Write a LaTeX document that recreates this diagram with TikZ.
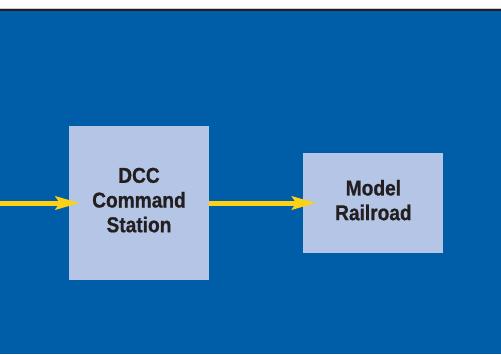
\documentclass[tikz,border=0pt]{standalone}
\usepackage{fontspec}
\usepackage{tikz}
\usetikzlibrary{positioning,arrows.meta}
\newfontfamily\labelfont[FakeStretch=0.89,FakeBold=0.8]{Liberation Sans}
\definecolor{panelblue}{HTML}{005EA8}
\definecolor{boxblue}{HTML}{B5C5E5}
\definecolor{signal}{HTML}{FCD116}
\definecolor{ink}{HTML}{231F20}

\begin{document}
\begin{tikzpicture}[x=1bp,y=1bp,
  box/.style={fill=boxblue,minimum width=140bp,inner sep=0pt,align=center,text depth=6bp,
    text=ink,font=\labelfont\bfseries\fontsize{21.5bp}{24.7bp}\selectfont},
  feed/.style={draw=signal,line width=5bp,-{Stealth[length=24bp,width=13bp,inset=4bp]}}]
\useasboundingbox (0,0) rectangle (501,354);
\fill[white] (0,0) rectangle (501,354);
\fill[panelblue] (0,0) rectangle (501,343);
\draw[ink,line width=2bp] (0,344) -- (501,344);
\draw[gray!40,line width=1bp] (0,345.5) -- (501,345.5);
\node [box,minimum height=154bp] (dcc) at (139,151) {DCC\\Command\\Station};
\node [box,minimum height=100bp,right=94bp of dcc] (rail) {Model\\Railroad};
\coordinate (in) at (0,151);
\draw [feed] (in) -- ([xshift=11bp]dcc.west);
\draw [feed] (dcc.east) -- ([xshift=13bp]rail.west);
\end{tikzpicture}
\end{document}
